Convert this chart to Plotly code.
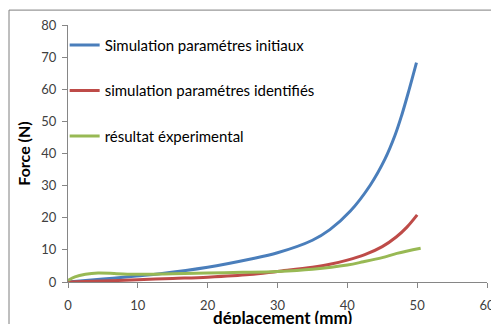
import plotly.graph_objects as go

x_blue = [0, 5, 9.8, 13.2, 20, 26, 30, 35, 37.5, 40.4, 43.3, 45.4, 46.8, 47.8, 48.8, 49.9]
y_blue = [0, 0.9, 1.9, 2.6, 4.6, 7.1, 9.1, 13.0, 16.3, 22.0, 30.2, 38.3, 45.5, 52.0, 59.5, 68.3]

x_red = [0, 5, 10, 15, 20, 26, 30, 35, 37.5, 40, 42.5, 45, 47, 48.5, 50]
y_red = [0, 0.3, 0.7, 1.1, 1.5, 2.3, 3.3, 4.6, 5.5, 6.8, 8.5, 11.0, 14.0, 17.0, 20.9]

x_green = [0, 1, 2.5, 4.3, 7, 10, 15, 20, 25, 30, 35, 40, 42.3, 45, 47.1, 50.5]
y_green = [0.5, 1.6, 2.4, 2.8, 2.6, 2.4, 2.6, 2.8, 3.0, 3.3, 4.0, 5.3, 6.3, 7.6, 8.9, 10.5]

names = ["Simulation paramétres initiaux", "simulation paramétres identifiés", "résultat éxperimental"]
colors = ["#4a7ebb", "#be4b48", "#98b954"]

x_ticks = [0, 10, 20, 30, 40, 50, 60]
y_ticks = [0, 10, 20, 30, 40, 50, 60, 70, 80]

fig = go.Figure()
for i, (xs, ys, n, c) in enumerate([(x_blue, y_blue, names[0], colors[0]),
                                    (x_red, y_red, names[1], colors[1]),
                                    (x_green, y_green, names[2], colors[2])]):
    fig.add_trace(go.Scatter(x=xs, y=ys, name=n, mode="lines", legendgroup=f"g{i}",
                             line=dict(color=c, width=3, shape="spline", smoothing=1.0)))

font = "Lato, Liberation Sans, sans-serif"
axis_common = dict(showgrid=False, zeroline=False, showline=True, linecolor="#868686", linewidth=1,
                   ticks="outside", tickcolor="#868686", ticklen=5,
                   tickfont=dict(family=font, size=13, color="#404040"))
fig.update_layout(
    width=499, height=324,
    margin=dict(l=60, r=20, t=17, b=50, autoexpand=False),
    paper_bgcolor="white", plot_bgcolor="white",
    font=dict(family=font),
    xaxis=dict(range=[0, 60], tickvals=x_ticks, ticklabelstandoff=6, **axis_common),
    yaxis=dict(range=[0, 80], tickvals=y_ticks, ticklabelstandoff=3, **axis_common),
    legend=dict(x=-0.008, y=0.985, xanchor="left", yanchor="top", bgcolor="rgba(0,0,0,0)",
                font=dict(family=font, size=15, color="#000000"), tracegroupgap=23,
                itemwidth=30, traceorder="grouped"),
    showlegend=True,
)
fig.add_annotation(text="<b>Force (N)</b>", xref="paper", yref="paper", x=-0.107, y=0.5,
                   textangle=-90, showarrow=False, font=dict(family=font, size=16, color="#000"),
                   xanchor="center", yanchor="middle")
fig.add_annotation(text="<b>déplacement (mm)</b>", xref="paper", yref="paper", x=0.513, y=-0.14,
                   showarrow=False, font=dict(family=font, size=17, color="#000"),
                   xanchor="center", yanchor="middle")
fig.add_shape(type="rect", xref="paper", yref="paper", x0=-0.1408, x1=1.03, y0=-0.3, y1=1.058,
              line=dict(color="#7f7f7f", width=1))
fig.write_html("out.html")
